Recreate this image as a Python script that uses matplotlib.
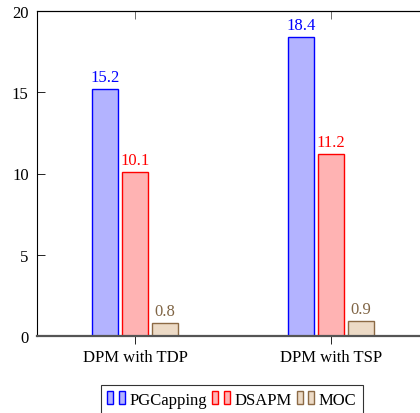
import matplotlib.pyplot as plt
from matplotlib.patches import Rectangle
from matplotlib.legend_handler import HandlerBase

categories = ["DPM with TDP", "DPM with TSP"]
series = ["PGCapping", "DSAPM", "MOC"]
pgcapping = [15.2, 18.4]
dsapm = [10.1, 11.2]
moc = [0.8, 0.9]

edges = ["#0000ff", "#ff0000", "#8c6a45"]
fills = ["#b3b3ff", "#ffb3b3", "#ecdac6"]
texts = ["#0000ff", "#ff0000", "#806545"]

plt.rcParams['font.family'] = ['Liberation Serif', 'DejaVu Serif']
plt.rcParams['font.size'] = 12


class TwoBoxes(HandlerBase):
    def create_artists(self, legend, orig, xd, yd, width, height, fontsize, trans):
        fc = orig.get_facecolor()
        ec = orig.get_edgecolor()
        arts = []
        for x0 in (0, 8.6):
            r = Rectangle((x0 - xd, -yd - 0.5), 4.3, height + 1, facecolor=fc,
                          edgecolor=ec, linewidth=1, transform=trans)
            arts.append(r)
        return arts


fig = plt.figure(figsize=(4.2, 4.14), dpi=100)
ax = fig.add_axes([37 / 420, 1 - 337 / 414, 392 / 420, 325 / 414])

offset = 0.153
width = 0.133
values = [pgcapping, dsapm, moc]
handles = []
for k in range(3):
    xs = [i + (k - 1) * offset for i in range(len(categories))]
    bars = ax.bar(xs, values[k], width=width, color=fills[k], edgecolor=edges[k],
                  linewidth=1, label=series[k])
    handles.append(bars[0])
    for x, v in zip(xs, values[k]):
        ax.annotate(str(v), (x, v), xytext=(0, 3), textcoords='offset points',
                    ha='center', va='bottom', color=texts[k], fontsize=12)

ax.set_xlim(-0.5, 1.5)
ax.set_ylim(0, 20)
ax.set_xticks(range(len(categories)))
ax.set_xticklabels(categories)
ax.set_yticks([0, 5, 10, 15, 20])
ax.tick_params(axis='y', direction='in', length=5.5, width=0.6, right=True, pad=6)
ax.tick_params(axis='x', direction='out', length=5.5, width=0.6, pad=4)
top = ax.secondary_xaxis('top')
top.set_xticks(range(len(categories)))
top.set_xticklabels([])
top.tick_params(direction='in', length=5.5, width=0.6, colors='#555555')
for s in ax.spines.values():
    s.set_linewidth(0.8)
ax.spines['bottom'].set_linewidth(1.6)
ax.spines['bottom'].set_color('#555555')
top.spines['top'].set_linewidth(0.8)

leg = ax.legend(handles, series, loc='upper center', bbox_to_anchor=(0.497, -49 / 325),
                ncol=3, handler_map={h: TwoBoxes() for h in handles}, frameon=True,
                fancybox=False, edgecolor='black', handlelength=1.08, handletextpad=0.25,
                columnspacing=0.3, borderpad=0.4, borderaxespad=0, fontsize=12)
leg.get_frame().set_linewidth(0.8)

fig.savefig("out.png", dpi=100)
